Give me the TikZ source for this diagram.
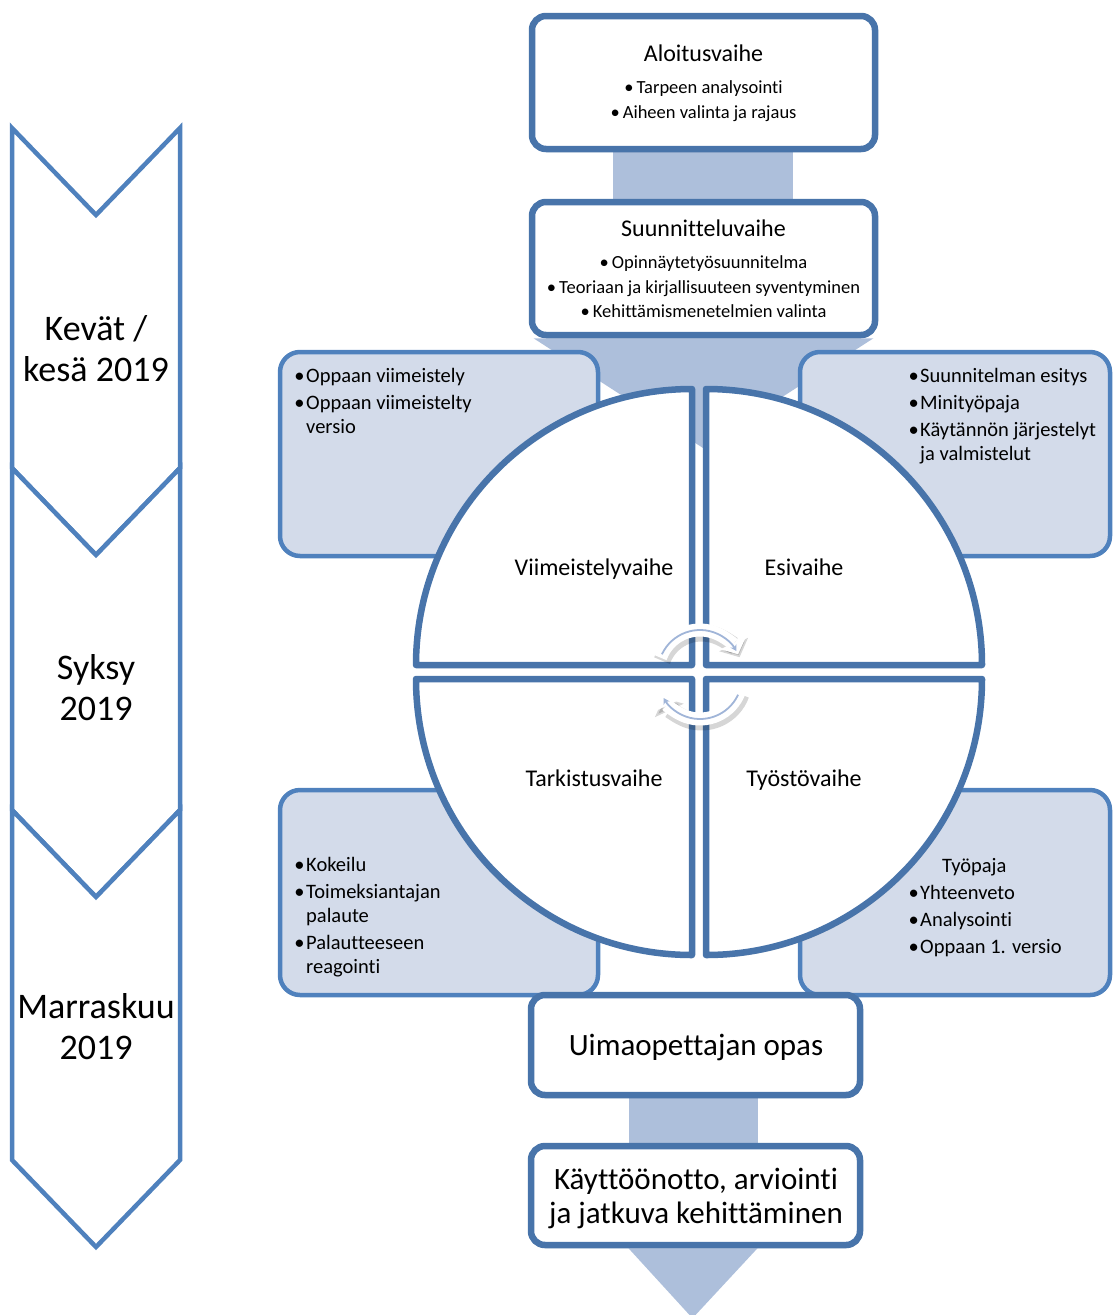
\documentclass[tikz,border=0pt]{standalone}
\usepackage{fontspec}
\setmainfont{Carlito}[Ligatures=NoCommon]
\usetikzlibrary{shadows,arrows.meta,backgrounds,calc}

\definecolor{reuna}{RGB}{72,116,170}
\definecolor{paneelireuna}{RGB}{79,129,189}
\definecolor{paneeli}{RGB}{211,219,234}
\definecolor{yhdys}{RGB}{173,191,219}
\definecolor{nuoli}{RGB}{160,181,216}

\tikzset{
  vaihe/.style={draw=reuna, line width=6.5pt, fill=white, rounded corners=14pt,
    drop shadow={shadow xshift=1.5pt, shadow yshift=-3pt, opacity=.3}},
  paneelilaatikko/.style={draw=paneelireuna, line width=4.5pt, fill=paneeli, rounded corners=20pt},
  neljannes/.style={draw=reuna, line width=6.5pt, fill=white, line join=round,
    drop shadow={shadow xshift=1.5pt, shadow yshift=-3pt, opacity=.25}},
  kausi/.style={draw=paneelireuna, line width=4.5pt, fill=white},
  yhdysosa/.style={fill=yhdys},
  otsikko/.style={font=\fontsize{24}{28}\selectfont, anchor=base, inner sep=0pt},
  lista/.style={font=\fontsize{18.5}{24.5}\selectfont, align=center, anchor=base, inner sep=0pt},
  paneeliteksti/.style={font=\fontsize{20.5}{24}\selectfont, align=left, anchor=base west, inner sep=0pt},
  kausiteksti/.style={font=\fontsize{36}{41}\selectfont, align=center, anchor=base, inner sep=0pt},
  isoteksti/.style={font=\fontsize{31}{34}\selectfont, align=center, anchor=base, inner sep=0pt},
  kiertovarjo/.style={line width=17pt, black, opacity=.16, -{Triangle[width=31pt,length=14pt]}},
  kiertopohja/.style={line width=13pt, white, -{Triangle[width=27pt,length=12pt]}},
  kiertoviiva/.style={line width=1.8pt, nuoli, -{Stealth[length=6pt,width=7pt]}},
}
\newcommand{\kohta}{\llap{\textbullet\hspace{1.5pt}}}

\begin{document}
\begin{tikzpicture}[x=1pt, y=-1pt]
  \useasboundingbox (0,0) rectangle (1112,1315);

  % aikajana
  \foreach \yt/\yb in {128/468, 468/810, 810/1160}
    \draw[kausi] (12,\yt) -- (96,\yt+87) -- (180,\yt) -- (180,\yb) -- (96,\yb+87) -- (12,\yb) -- cycle;
  \node[kausiteksti] (kevat) at (96,381) {Kevät /\\kesä 2019};
  \node[kausiteksti] (syksy) at (96,720) {Syksy\\2019};
  \node[kausiteksti] (marras) at (96,1059) {Marraskuu\\2019};

  % paneelit
  \draw[paneelilaatikko] (280,352) rectangle (598,556);
  \draw[paneelilaatikko] (800,352) rectangle (1110,556);
  \draw[paneelilaatikko] (280,790) rectangle (598,995);
  \draw[paneelilaatikko] (800,790) rectangle (1110,995);

  \node[paneeliteksti] (viim-lista) at (306,433)
    {\kohta Oppaan viimeistely\\[3pt]\kohta Oppaan viimeistelty\\versio};
  \node[paneeliteksti] (esi-lista) at (920,460)
    {\kohta Suunnitelman esitys\\[3pt]\kohta Minityöpaja\\[3pt]\kohta Käytännön järjestelyt\\ja valmistelut};
  \node[paneeliteksti] (tark-lista) at (306,973)
    {\kohta Kokeilu\\[3pt]\kohta Toimeksiantajan\\palaute\\[3pt]\kohta Palautteeseen\\reagointi};
  \node[paneeliteksti] (tyo-lista) at (920,953)
    {\hspace*{22pt}Työpaja\\[3pt]\kohta Yhteenveto\\[3pt]\kohta Analysointi\\[3pt]\kohta Oppaan 1. versio};

  % ympyra
  \coordinate (keskus) at (699,672);
  \draw[neljannes] ($(keskus)+(-7,-7)$) -- +(-276,0) arc[start angle=180, end angle=270, radius=276] -- cycle;
  \draw[neljannes] ($(keskus)+(7,-7)$) -- +(0,-276) arc[start angle=270, end angle=360, radius=276] -- cycle;
  \draw[neljannes] ($(keskus)+(7,7)$) -- +(276,0) arc[start angle=0, end angle=90, radius=276] -- cycle;
  \draw[neljannes] ($(keskus)+(-7,7)$) -- +(0,276) arc[start angle=90, end angle=180, radius=276] -- cycle;

  \node[otsikko] (viimeistely) at (594,575) {Viimeistelyvaihe};
  \node[otsikko] (esivaihe) at (804,575) {Esivaihe};
  \node[otsikko] (tarkistus) at (594,786) {Tarkistusvaihe};
  \node[otsikko] (tyosto) at (804,786) {Työstövaihe};

  % kiertonuolet
  \draw[kiertovarjo] ($(keskus)+(2.5,3)$) ++(200:42) arc[start angle=200, end angle=335, radius=42];
  \draw[kiertopohja] ($(keskus)+(1,0)$) ++(200:42) arc[start angle=200, end angle=335, radius=42];
  \draw[kiertoviiva] ($(keskus)+(1,0)$) ++(205:42) arc[start angle=205, end angle=330, radius=42];
  \draw[kiertovarjo] ($(keskus)+(2.5,8)$) ++(20:42) arc[start angle=20, end angle=155, radius=42];
  \draw[kiertopohja] ($(keskus)+(1,5)$) ++(20:42) arc[start angle=20, end angle=155, radius=42];
  \draw[kiertoviiva] ($(keskus)+(1,5)$) ++(25:42) arc[start angle=25, end angle=150, radius=42];

  % vaiheet ylhaalla ja alhaalla
  \node[vaihe, minimum width=343pt, minimum height=133pt] (alku) at (703.5,82.5) {};
  \node[vaihe, minimum width=343pt, minimum height=133pt] (suunnittelu) at (703.5,268.5) {};
  \node[vaihe, minimum width=329pt, minimum height=100pt] (opas) at (695.5,1045) {};
  \node[vaihe, minimum width=329pt, minimum height=99pt] (kaytto) at (695.5,1195.5) {};

  \node[otsikko] (alku-otsikko) at (703.5,61) {Aloitusvaihe};
  \node[lista] (alku-lista) at (703.5,118) {\textbullet\,Tarpeen analysointi\\\textbullet\,Aiheen valinta ja rajaus};
  \node[otsikko] (suunn-otsikko) at (703.5,236) {Suunnitteluvaihe};
  \node[lista] (suunn-lista) at (703.5,317.5)
    {\textbullet\,Opinnäytetyösuunnitelma\\\textbullet\,Teoriaan ja kirjallisuuteen syventyminen\\\textbullet\,Kehittämismenetelmien valinta};
  \node[isoteksti] (opas-teksti) at (696,1055) {Uimaopettajan opas};
  \node[isoteksti] (kaytto-teksti) at (696,1223) {Käyttöönotto, arviointi\\ja jatkuva kehittäminen};

  % yhdysosat taustalla
  \begin{scope}[on background layer]
    \fill[yhdysosa] ([xshift=-91pt]alku.south) rectangle ([xshift=89pt]suunnittelu.north);
    \fill[yhdysosa] ([xshift=-170pt]suunnittelu.south) -- ([xshift=170pt]suunnittelu.south) -- ($(keskus)+(4,-224)$) -- cycle;
    \fill[yhdysosa] ([xshift=-67pt]opas.south) rectangle ([xshift=62pt]kaytto.north);
    \fill[yhdysosa] ([xshift=-67pt]kaytto.south) -- ([xshift=62pt]kaytto.south) -- ($(kaytto.south)+(-3,70)$) -- cycle;
  \end{scope}
\end{tikzpicture}
\end{document}
